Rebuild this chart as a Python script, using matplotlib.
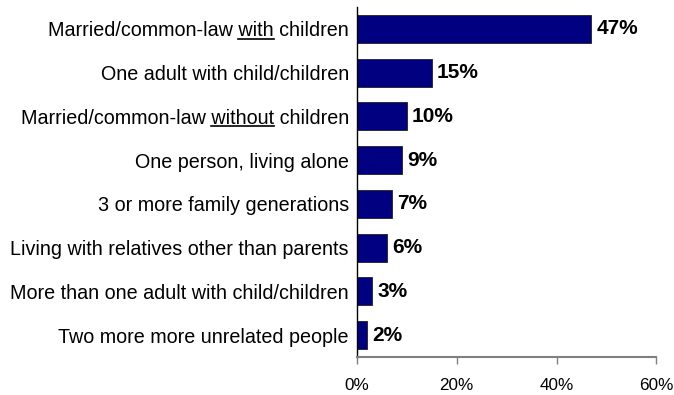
import matplotlib
matplotlib.use("Agg")
import matplotlib.pyplot as plt
from matplotlib.ticker import FuncFormatter

plt.rcParams['font.family'] = ['Liberation Sans', 'DejaVu Sans']

categories = [
    "Married/common-law with children",
    "One adult with child/children",
    "Married/common-law without children",
    "One person, living alone",
    "3 or more family generations",
    "Living with relatives other than parents",
    "More than one adult with child/children",
    "Two more more unrelated people",
]
values = [47, 15, 10, 9, 7, 6, 3, 2]
underlined = {0: "with", 2: "without"}
x_ticks = [0, 20, 40, 60]

fig = plt.figure(figsize=(6.74, 3.95), dpi=100)
ax = fig.add_axes([356.5 / 674, 1 - 357 / 395, 300 / 674, 350 / 395])

pos = list(range(len(categories)))
ax.barh(pos, values, height=0.64, color="#000080", edgecolor="#202020", linewidth=0.6)
ax.set_ylim(len(categories) - 0.5, -0.5)
ax.set_xlim(0, 60)
ax.set_xticks(x_ticks)
ax.xaxis.set_major_formatter(FuncFormatter(lambda v, p: f"{v:.0f}%"))

for s in ["top", "right"]:
    ax.spines[s].set_visible(False)
ax.spines["left"].set_color("black")
ax.spines["left"].set_linewidth(1.0)
ax.spines["bottom"].set_color("#808080")
ax.spines["bottom"].set_linewidth(1.5)

ax.tick_params(axis="x", length=5, width=1, color="#808080", pad=10, labelsize=12.3, labelcolor="black")
ax.set_yticks(pos)
ax.set_yticklabels(categories)
ax.tick_params(axis="y", length=0, pad=5.5, labelsize=14.2)

for p, v in zip(pos, values):
    ax.annotate(f"{v}%", xy=(v, p), xytext=(4, 0), textcoords="offset points",
                va="center", ha="left", fontsize=15, fontweight="bold")

# underline selected words inside the category labels
fig.canvas.draw()
renderer = fig.canvas.get_renderer()
labels = ax.get_yticklabels()
for idx, word in underlined.items():
    lab = labels[idx]
    text = lab.get_text()
    prefix = text[: text.index(word)]
    bb = lab.get_window_extent(renderer)
    fp = lab.get_fontproperties()

    def width(s):
        t = fig.text(0, 0, s, fontproperties=fp)
        w = t.get_window_extent(renderer).width
        t.remove()
        return w

    w_pw = width(prefix + word)
    w_w = width(word)
    x0 = bb.x0 + w_pw - w_w
    x1 = bb.x0 + w_pw
    y = bb.y0 + 1.5
    fig.add_artist(plt.Line2D([x0 / fig.bbox.width, x1 / fig.bbox.width],
                              [y / fig.bbox.height, y / fig.bbox.height],
                              color="black", linewidth=1.2))

fig.savefig("out.png", dpi=100)
